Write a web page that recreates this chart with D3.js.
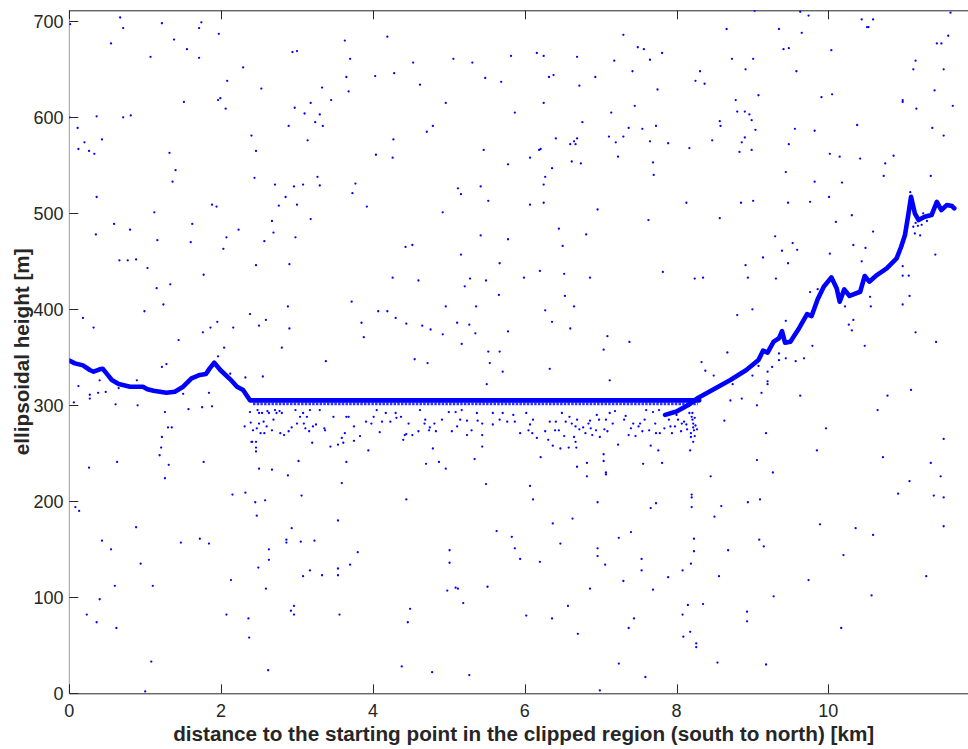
<!DOCTYPE html>
<html><head><meta charset="utf-8">
<script src="https://cdn.jsdelivr.net/npm/d3@7"></script>
<style>body{margin:0;background:#fff}svg{display:block}</style>
</head><body><svg id="c" width="968" height="749"></svg>
<script>
// ---------- data ----------
const xTicks = [0, 2, 4, 6, 8, 10, 12];
const xTickLabels = ["0", "2", "4", "6", "8", "10", ""];
const yTicks = [0, 100, 200, 300, 400, 500, 600, 700];
const xDomain = [0, 12];
const yDomain = [0, 711.5];
const xLabel = "distance to the starting point in the clipped region (south to north) [km]";
const yLabel = "ellipsoidal height [m]";

// southern profile (km, m) continuing into the flat clipped section
const southProfile = [[0,346.5],[0.075,343.7],[0.18,341.6],[0.27,336.8],[0.32,335],[0.4,337.5],[0.44,338.1],[0.49,333.3],[0.56,326.4],[0.65,322.2],[0.8,319.4],[0.97,319.4],[1.03,316.7],[1.11,315.2],[1.28,313.1],[1.39,314.2],[1.5,319.4],[1.61,328.1],[1.72,331.6],[1.8,332.6],[1.85,338.5],[1.91,344.4],[1.99,336.8],[2.12,327.1],[2.21,319.4],[2.29,315.9],[2.38,305.2],[8.3,305.2]];
// lower fringe of the flat section
const flatFringe = [[2.42,301.5],[8.28,301.5]];
// northern rising profile
const northProfile = [[7.85,290],[8.0,293.5],[8.15,300],[8.27,307],[8.49,316.7],[8.71,326.4],[8.92,336.8],[9.08,347.2],[9.14,356.9],[9.2,354.8],[9.28,366.3],[9.35,369.8],[9.39,377.4],[9.43,365.2],[9.5,366.3],[9.6,378.4],[9.72,395.1],[9.78,393],[9.86,410.4],[9.94,423.5],[10.04,433.3],[10.11,421.9],[10.15,407.9],[10.21,420.8],[10.28,413.9],[10.42,418.3],[10.48,434.7],[10.54,428.8],[10.64,435.7],[10.77,442.7],[10.9,453.1],[10.96,465.2],[11.01,477.4],[11.05,496.5],[11.09,517.3],[11.14,500],[11.19,493],[11.27,496.5],[11.36,498.2],[11.43,512],[11.49,503.4],[11.56,508.6],[11.63,507.6],[11.66,505.2]];

// scattered outlier returns (km, m)
const outliersUpperLeft = [[0.01,697],[0.67,704],[0.71,693],[0.55,677],[1.22,698],[1.38,681],[1.55,671],[1.71,693],[1.74,699],[1.71,662],[1.97,687],[1.07,663],[2.29,652],[2.08,638],[2.53,630],[1.51,616],[1.96,618],[1.99,620],[2.06,609],[2.94,668],[3.00,669],[3.33,631],[0.36,601],[0.71,600],[0.81,602],[0.11,589],[0.12,567],[0.20,574],[0.26,565],[0.33,562],[0.43,577],[0.36,517],[1.32,563],[1.40,545],[1.36,533],[2.40,581],[2.46,565],[2.44,537],[2.89,591],[2.97,610],[3.10,604],[3.18,615],[3.24,595],[3.30,603],[3.34,591],[3.14,576],[3.27,538],[3.30,529],[3.08,530],[2.96,528],[2.71,530],[2.85,517],[2.76,508],[3.00,509],[1.88,509],[1.94,507],[1.12,501],[1.62,489],[0.59,489],[0.80,483],[0.35,478],[1.16,472],[1.60,470],[2.07,475],[2.23,483],[2.67,492],[2.69,480],[2.98,475],[3.18,494],[2.57,471],[2.03,463],[0.0,600]];
const outliersUpperMid = [[3.63,680],[4.19,684],[3.70,661],[3.65,642],[4.03,643],[4.28,646],[4.53,657],[4.62,634],[3.45,618],[3.68,627],[5.06,661],[5.31,657],[5.82,664],[5.48,641],[5.69,637],[4.96,615],[5.87,605],[6.16,667],[6.25,664],[6.32,642],[6.38,644],[6.69,663],[6.72,633],[6.93,642],[7.18,659],[7.30,686],[7.49,673],[7.57,671],[7.81,667],[7.65,660],[7.42,648],[7.75,629],[6.25,615],[7.45,612],[7.14,605],[6.76,595],[4.79,591],[4.71,585],[4.27,577],[4.04,561],[4.26,558],[5.46,566],[5.78,551],[6.07,558],[6.19,566],[6.21,567],[6.41,578],[6.60,572],[6.65,575],[6.67,572],[6.69,578],[6.62,554],[6.74,552],[6.36,547],[6.27,538],[6.25,530],[6.25,511],[6.07,509],[7.11,580],[7.20,574],[7.30,580],[7.37,589],[7.55,588],[7.73,591],[7.65,575],[7.89,573],[7.23,559],[7.69,553],[7.70,540],[6.96,504],[7.63,493],[6.45,484],[6.81,478],[6.50,466],[5.78,473],[5.42,477],[3.77,531],[3.73,521],[3.92,507],[5.12,526],[5.16,520],[5.42,528],[5.52,513],[4.92,501],[4.43,465],[4.52,467]];
const outliersUpperRight = [[9.03,711],[9.63,710],[9.74,706],[9.35,692],[9.65,688],[8.66,692],[8.73,661],[9.01,661],[9.41,671],[9.48,672],[10.04,670],[10.44,702],[10.59,702],[10.51,694],[10.53,694],[11.61,709],[11.58,685],[11.43,677],[11.49,677],[11.15,659],[11.12,650],[11.52,650],[11.40,628],[11.64,612],[10.98,618],[10.98,616],[11.16,609],[8.31,648],[8.25,638],[8.37,635],[8.91,650],[9.58,648],[9.08,623],[8.78,618],[9.91,621],[10.05,624],[8.80,606],[8.90,606],[8.96,603],[8.99,597],[8.57,596],[8.58,591],[9.04,587],[9.56,588],[9.82,586],[10.38,592],[11.37,589],[11.52,581],[8.17,568],[8.47,576],[8.90,579],[8.86,574],[8.83,564],[8.99,566],[9.48,572],[10.02,562],[10.15,559],[10.42,557],[10.86,560],[10.75,552],[10.73,539],[11.35,539],[9.44,543],[9.82,533],[10.18,532],[8.13,511],[8.85,511],[9.01,513],[9.47,511],[9.76,512],[10.01,517],[8.57,495],[10.31,498],[10.10,491],[10.59,481],[9.30,476],[9.53,469],[10.33,467],[10.49,464]];
const outliersMidRight = [[9.39,461],[9.59,462],[9.14,454],[10.02,458],[10.44,450],[11.41,457],[8.91,446],[9.47,448],[8.24,432],[8.35,433],[8.94,433],[9.31,432],[10.98,445],[10.98,435],[11.06,435],[11.07,414],[10.98,405],[9.76,418],[9.86,421],[10.22,403],[10.55,413],[10.56,403],[9.00,400],[8.80,394],[9.44,388],[10.27,384],[10.33,389],[10.31,378],[11.15,376],[11.42,366],[10.48,362],[9.79,362],[8.67,355],[8.33,345],[8.38,336],[8.49,331],[9.35,354],[9.44,349],[9.35,347],[9.57,346],[9.68,349],[9.20,335],[9.26,340],[9.20,325],[9.20,322],[9.00,331],[9.08,341],[8.74,322],[9.12,313],[9.06,300],[8.86,307],[8.71,305],[9.63,310],[8.63,284],[9.97,276],[10.78,310],[10.65,295],[11.09,316],[11.08,522],[11.1,512],[11.12,505],[11.15,490],[11.18,487],[11.2,495],[11.23,488],[11.25,500],[11.3,492],[11.07,508],[11.12,486],[11.14,479],[11.21,477]];
const outliersMidLeft = [[0.66,451],[0.77,451],[0.88,452],[1.03,443],[1.77,436],[1.15,422],[1.33,426],[2.46,446],[2.90,447],[0.99,398],[1.24,405],[0.18,391],[0.32,381],[1.44,368],[1.76,376],[1.86,381],[1.95,387],[2.16,381],[2.38,395],[2.50,383],[2.59,389],[2.88,403],[2.90,380],[2.04,360],[1.96,351],[2.80,360],[1.22,340],[1.28,343],[3.38,346],[3.72,408],[3.85,386],[3.88,371],[4.07,398],[4.19,398],[4.30,391],[4.44,385],[4.26,433],[4.60,430],[4.65,383],[4.76,379],[4.92,374],[4.96,403],[5.11,386],[5.27,384],[5.17,364],[5.16,457],[5.21,424],[5.28,432],[5.49,430],[5.36,403],[5.35,375],[5.66,415],[5.67,448],[5.78,377],[5.52,356],[5.67,356],[5.54,344],[5.99,433],[6.20,440],[6.52,437],[6.53,414],[6.65,403],[6.27,399],[6.36,387],[6.60,380],[6.86,433],[7.09,372],[7.04,358],[7.38,366],[6.33,338],[5.71,335],[7.82,439],[4.72,344],[4.55,348],[2.55,330],[2.32,329],[2.12,333],[0.12,320],[0.06,303],[0.27,311],[0.27,307],[0.38,313],[0.48,314],[0.40,326],[0.61,301],[0.65,318],[0.90,300],[0.89,326],[1.26,293],[1.22,267],[1.30,277],[1.35,277],[1.21,256],[1.19,248],[1.31,238],[1.57,296],[1.75,298],[1.88,299],[1.84,313],[1.50,312],[0.26,235],[0.63,241],[1.77,241],[3.02,242],[2.50,234],[2.67,233],[5.50,322],[7.12,326]];
const outliersLowLeft = [[1.26,224],[2.40,262],[2.46,262],[2.46,256],[2.46,252],[2.88,227],[3.20,261],[3.44,257],[3.54,259],[3.61,261],[3.75,263],[3.65,241],[3.94,253],[3.59,219],[4.40,264],[4.79,255],[4.70,239],[4.87,241],[4.96,234],[5.34,244],[5.44,257],[5.49,218],[4.44,202],[2.15,207],[2.32,209],[2.45,199],[2.58,201],[3.06,206],[2.47,185],[2.93,172],[3.54,180],[0.08,194],[0.13,190],[0.88,173],[0.43,159],[0.55,150],[0.94,135],[1.47,157],[1.72,161],[1.84,156],[2.63,150],[2.63,139],[2.49,131],[2.86,160],[2.86,157],[3.05,158],[3.23,159],[3.80,147],[3.70,134],[3.54,130],[3.54,123],[3.33,123],[3.08,122],[3.17,128],[2.13,118],[2.59,109],[0.60,112],[1.10,112],[0.40,98],[0.23,82],[0.36,74],[0.62,68],[2.07,82],[2.36,78],[2.37,58],[2.96,91],[2.92,86],[2.96,82],[3.56,82],[1.08,33],[1.00,2],[2.62,24],[4.49,88],[4.46,74],[4.38,28],[4.78,22],[5.27,19],[5.01,149],[5.01,136],[4.98,107],[5.09,110],[5.12,109],[5.19,94],[5.51,111],[5.63,169],[5.83,163],[5.87,151],[5.94,140]];
const outliersLowRight = [[6.21,246],[6.07,216],[6.11,202],[6.37,177],[6.63,182],[6.20,137],[6.47,156],[6.02,81],[6.36,78],[6.57,91],[6.70,62],[6.86,109],[6.96,151],[6.96,143],[7.06,134],[6.96,199],[6.82,226],[6.82,240],[6.69,236],[7.04,249],[7.04,242],[7.07,230],[7.07,228],[7.23,259],[7.24,162],[7.40,168],[7.56,239],[7.81,240],[7.76,253],[7.66,193],[7.73,198],[7.54,140],[7.54,128],[7.30,117],[7.69,108],[7.89,121],[7.44,78],[7.37,68],[7.24,31],[7.59,17],[6.99,3],[8.08,128],[8.19,135],[8.23,148],[8.23,161],[8.08,82],[8.15,92],[8.35,93],[8.18,64],[8.09,59],[8.26,52],[8.26,48],[8.54,32],[9.18,30],[8.56,122],[8.68,149],[8.50,184],[8.59,195],[8.20,207],[8.20,204],[8.20,194],[8.45,226],[8.94,199],[9.10,202],[9.09,160],[9.15,153],[8.93,85],[8.93,75],[9.28,101],[9.06,243],[9.27,230],[9.18,271],[9.85,253],[9.89,176],[9.74,118],[10.20,144],[10.36,172],[10.59,165],[10.57,102],[10.17,68],[10.72,246],[10.92,208],[11.07,221],[11.35,240],[11.48,226],[11.39,206],[11.52,204],[11.52,265],[11.52,174],[11.29,122]];
// returns scattered beneath the flat clipped section
const bandPoints = [[2.31,278],[2.38,293],[2.39,282],[2.41,262],[2.42,274],[2.47,276],[2.48,295],[2.50,292],[2.50,281],[2.52,271],[2.54,292],[2.56,283],[2.57,271],[2.60,278],[2.61,294],[2.63,292],[2.67,274],[2.69,285],[2.71,295],[2.73,292],[2.77,294],[2.78,271],[2.80,292],[2.83,269],[2.89,273],[2.93,277],[2.98,295],[3.00,281],[3.04,288],[3.08,292],[3.09,281],[3.11,276],[3.13,288],[3.16,273],[3.17,295],[3.21,278],[3.25,280],[3.30,295],[3.36,276],[3.37,274],[3.48,288],[3.59,266],[3.63,271],[3.65,288],[3.68,288],[3.75,278],[3.83,268],[3.91,283],[3.98,281],[4.01,288],[4.05,295],[4.09,272],[4.12,283],[4.17,292],[4.23,283],[4.30,292],[4.31,287],[4.37,288],[4.42,269],[4.44,270],[4.47,281],[4.52,269],[4.60,273],[4.62,295],[4.69,285],[4.68,281],[4.74,274],[4.75,277],[4.81,281],[4.83,273],[4.91,285],[5.00,293],[5.04,273],[5.09,293],[5.11,278],[5.15,285],[5.17,295],[5.24,269],[5.24,284],[5.30,274],[5.37,292],[5.38,284],[5.44,269],[5.44,281],[5.58,292],[5.58,280],[5.67,285],[5.71,292],[5.77,283],[5.85,290],[5.87,283],[5.94,271],[6.02,292],[6.05,274],[6.07,280],[6.10,271],[6.11,285],[6.16,266],[6.27,273],[6.31,264],[6.33,283],[6.37,258],[6.40,274],[6.41,283],[6.45,274],[6.47,255],[6.49,292],[6.52,268],[6.54,283],[6.58,256],[6.59,288],[6.62,281],[6.65,267],[6.67,262],[6.68,256],[6.67,278],[6.69,285],[6.72,275],[6.77,277],[6.80,271],[6.84,281],[6.86,284],[6.87,276],[6.89,269],[6.94,274],[6.95,290],[6.98,285],[6.99,267],[7.05,275],[7.07,285],[7.09,273],[7.12,292],[7.16,281],[7.19,294],[7.31,285],[7.33,289],[7.37,269],[7.40,276],[7.43,281],[7.46,268],[7.50,278],[7.52,281],[7.55,273],[7.58,285],[7.60,295],[7.64,274],[7.66,258],[7.69,293],[7.72,281],[7.73,271],[7.77,295],[7.78,271],[7.84,276],[7.86,290],[7.90,285],[7.92,278],[7.94,271],[7.98,278],[8.00,290],[8.02,285],[8.06,273],[8.07,281],[8.10,283],[8.13,280],[8.14,275],[8.17,292],[8.18,253],[8.19,271],[8.19,267],[8.20,288],[8.21,285],[8.22,281],[8.22,277],[8.23,274],[8.27,275],[8.21,292],[8.22,262],[8.24,287],[8.25,279],[8.24,268]];

// ---------- drawing ----------
const svg = d3.select("#c");
const W = 968, H = 749;
const m = {left: 69.3, top: 10.3, bottom: 693.3};
const x = d3.scaleLinear().domain(xDomain).range([m.left, m.left + 75.9 * 12]);
const y = d3.scaleLinear().domain(yDomain).range([m.bottom, m.top]);
const ink = "#262626";
const font = "'Liberation Sans', Arial, Helvetica, sans-serif";

svg.append("rect").attr("width", W).attr("height", H).attr("fill", "#fff");

svg.append("defs").append("clipPath").attr("id", "plot")
  .append("rect").attr("x", x(0)).attr("y", y(yDomain[1])).attr("width", x(12) - x(0)).attr("height", y(0) - y(yDomain[1]));

// axes box
const gAx = svg.append("g");
gAx.append("line").attr("x1", x(0)).attr("x2", x(12)).attr("y1", y(0) + 0.5).attr("y2", y(0) + 0.5).attr("stroke", ink);
gAx.append("line").attr("x1", x(0)).attr("x2", x(12)).attr("y1", y(yDomain[1]) + 0.5).attr("y2", y(yDomain[1]) + 0.5).attr("stroke", ink);
gAx.append("line").attr("x1", x(0)).attr("x2", x(0)).attr("y1", y(0)).attr("y2", y(yDomain[1])).attr("stroke", "#9a9a9a");

const tickLen = 9;
xTicks.forEach((t, i) => {
  const px = Math.round(x(t)) + 0.5;
  gAx.append("line").attr("x1", px).attr("x2", px).attr("y1", y(0)).attr("y2", y(0) - tickLen).attr("stroke", ink);
  gAx.append("line").attr("x1", px).attr("x2", px).attr("y1", y(yDomain[1])).attr("y2", y(yDomain[1]) + tickLen).attr("stroke", ink);
  if (xTickLabels[i]) gAx.append("text").attr("x", x(t)).attr("y", y(0) + 24).attr("text-anchor", "middle")
    .attr("font-family", font).attr("font-size", 18).attr("fill", ink).text(xTickLabels[i]);
});
yTicks.forEach(t => {
  const py = Math.round(y(t)) + 0.5;
  gAx.append("line").attr("x1", x(0)).attr("x2", x(0) + tickLen).attr("y1", py).attr("y2", py).attr("stroke", ink);
  gAx.append("text").attr("x", 63.5).attr("y", y(t) + 6.5).attr("text-anchor", "end")
    .attr("font-family", font).attr("font-size", 18).attr("fill", ink).text(t);
});

svg.append("text").attr("x", (x(0) + x(12)) / 2 - 1).attr("y", 741).attr("text-anchor", "middle")
  .attr("font-family", font).attr("font-size", 20.7).attr("font-weight", "bold").attr("fill", ink).text(xLabel);
svg.append("text").attr("transform", `translate(29,${(y(0) + y(yDomain[1])) / 2}) rotate(-90)`).attr("text-anchor", "middle")
  .attr("font-family", font).attr("font-size", 20.7).attr("font-weight", "bold").attr("fill", ink).text(yLabel);

// data
const gD = svg.append("g").attr("clip-path", "url(#plot)");
const blue = "#0000ff";
const line = d3.line().x(d => x(d[0])).y(d => y(d[1]));

const allOutliers = [].concat(outliersUpperLeft, outliersUpperMid, outliersUpperRight, outliersMidRight, outliersMidLeft, outliersLowLeft, outliersLowRight, bandPoints);
gD.selectAll("circle.o").data(allOutliers).join("circle").attr("class", "o")
  .attr("cx", d => x(d[0])).attr("cy", d => y(d[1])).attr("r", 1.15).attr("fill", blue);

gD.append("path").attr("d", line(flatFringe)).attr("fill", "none").attr("stroke", blue)
  .attr("stroke-width", 2.6).attr("stroke-dasharray", "2.5 1.2").attr("opacity", 0.8);
gD.append("path").attr("d", line(southProfile)).attr("fill", "none").attr("stroke", blue)
  .attr("stroke-width", 4.6).attr("stroke-linejoin", "round").attr("stroke-linecap", "round");
gD.append("path").attr("d", line(northProfile)).attr("fill", "none").attr("stroke", blue)
  .attr("stroke-width", 4.6).attr("stroke-linejoin", "round").attr("stroke-linecap", "round");
</script></body></html>
